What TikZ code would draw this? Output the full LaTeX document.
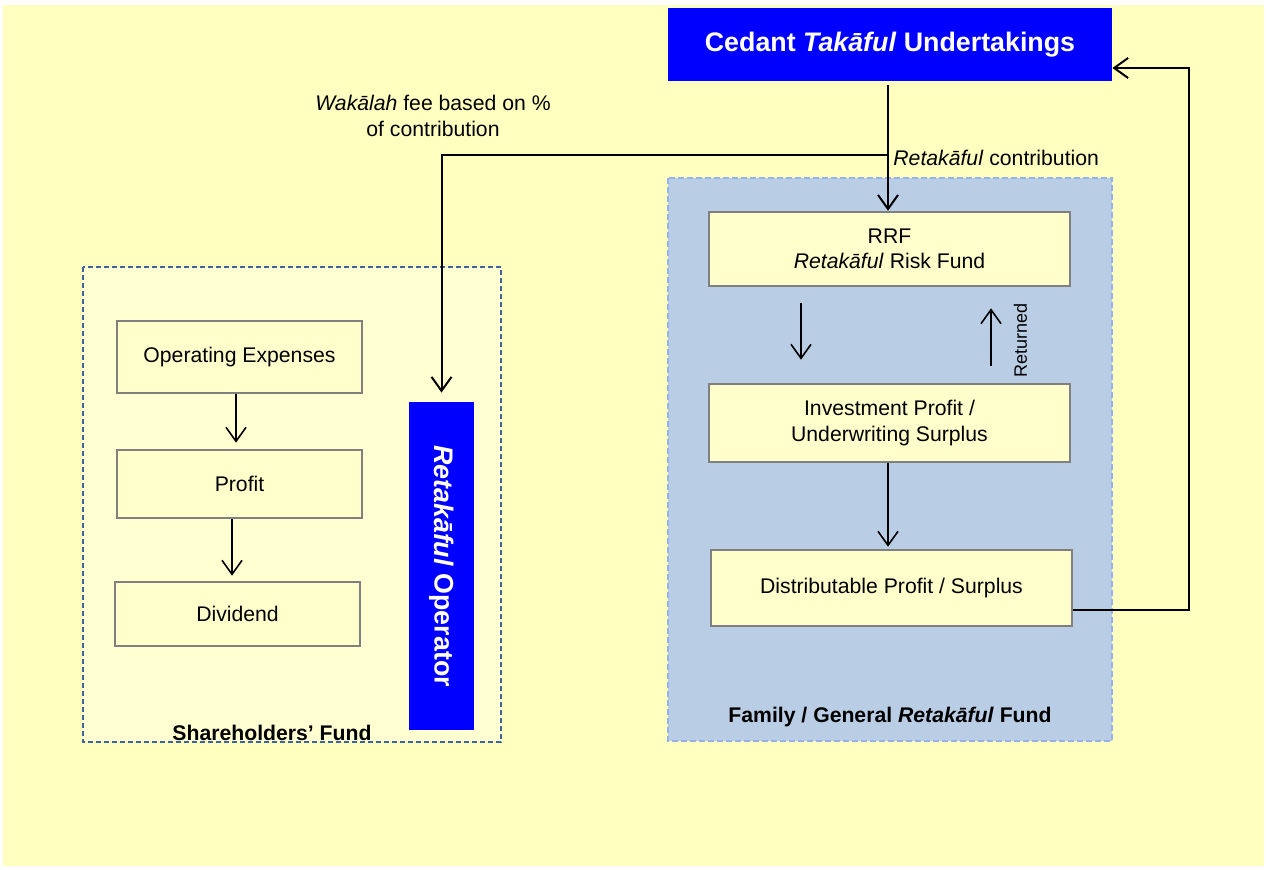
\documentclass[tikz,border=0pt]{standalone}
\usepackage{fontspec}
\setmainfont{Liberation Sans}
\usepackage{tikz}
\usetikzlibrary{arrows.meta}
\definecolor{bgyellow}{RGB}{255,255,192}
\definecolor{shfill}{RGB}{255,255,210}
\definecolor{boxfill}{RGB}{255,255,204}
\definecolor{boxgray}{RGB}{128,128,128}
\definecolor{shdash}{RGB}{62,100,156}
\definecolor{fundblue}{RGB}{185,205,229}
\definecolor{funddash}{RGB}{149,179,232}
\definecolor{opblue}{RGB}{0,0,255}

\begin{document}
\begin{tikzpicture}[x=0.5pt,y=-0.5pt,
  >={Straight Barb[length=7pt,width=10pt]},
  box/.style={draw=boxgray,line width=1.3pt,fill=boxfill,inner sep=0pt,align=center,
    font=\fontsize{10.6}{12.7}\selectfont},
  bluebox/.style={fill=opblue,text=white,inner sep=0pt,
    font=\fontsize{13.4}{16}\selectfont\bfseries},
  conn/.style={->,line width=1pt},
  thin conn/.style={->,line width=0.8pt},
  lbl/.style={inner sep=1pt,align=center,font=\fontsize{10.6}{13}\selectfont}]
  \useasboundingbox (0,0) rectangle (1267,870);
  \fill [bgyellow] (3,5) rectangle (1264,866);

  \filldraw [fill=shfill,draw=shdash,line width=1pt,dash pattern=on 2.5pt off 1.5pt] (83,267) rectangle (501,742);
  \filldraw [fill=fundblue,draw=funddash,line width=1pt,dash pattern=on 3pt off 1.5pt] (668,178) rectangle (1112,741);

  \node [bluebox,minimum width=222pt,minimum height=36.5pt] (cedant) at (890,44.5) {\raisebox{-1.5pt}{Cedant \textit{Takāful} Undertakings}};

  \node [box,minimum width=122.5pt,minimum height=36pt] (opex) at (239.5,357) {Operating Expenses};
  \node [box,minimum width=122.5pt,minimum height=34pt] (profit) at (239.5,484) {Profit};
  \node [box,minimum width=122.5pt,minimum height=32pt] (divid) at (237.5,614) {Dividend};
  \node [bluebox,rotate=-90,minimum width=164pt,minimum height=32.5pt] (oper) at (441.5,566) {\textit{Retakāful} Operator};
  \node [lbl,font=\fontsize{10.6}{13}\selectfont\bfseries] (shfund) at (272,733) {Shareholders’ Fund};

  \node [box,minimum width=180.5pt,minimum height=37pt] (rrf) at (889.5,249) {RRF\\\textit{Retakāful} Risk Fund};
  \node [box,minimum width=180.5pt,minimum height=39pt] (inv) at (889.5,423) {Investment Profit /\\Underwriting Surplus};
  \node [box,minimum width=180.5pt,minimum height=38pt] (dist) at (891.5,588) {Distributable Profit / Surplus};
  \node [lbl,font=\fontsize{10.6}{13}\selectfont\bfseries] (gfund) at (890,717) {Family / General \textit{Retakāful} Fund};

  \node [lbl] (wakalah) at (433,116) {\textit{Wakālah} fee based on \%\\of contribution};
  \node [lbl,anchor=west] (contrib) at (891,158) {\textit{Retakāful} contribution};
  \coordinate (split) at (888,155);

  \draw [conn,shorten <=2pt] (cedant.south -| split) -- (rrf.north -| split);
  \draw [conn,shorten >=4.5pt] (split) -| (oper.west);
  \draw [conn] ([yshift=-11pt]dist.east) -- ++(58pt,0) |- ([yshift=-11.75pt]cedant.east);

  \draw [thin conn,shorten >=3pt] ([xshift=-1.75pt]opex.south) -- ([xshift=-1.75pt]profit.north);
  \draw [thin conn,shorten >=2.5pt] ([xshift=-3.75pt]profit.south) -- ([xshift=-3.75pt]profit.south |- divid.north);
  \draw [thin conn,shorten <=8pt,shorten >=11.5pt] ([xshift=-44.25pt]rrf.south) -- ([xshift=-44.25pt]inv.north);
  \draw [thin conn,shorten <=8.5pt,shorten >=10.5pt] ([xshift=50.75pt]inv.north) -- ([xshift=50.75pt]rrf.south)
    node [pos=0.44,anchor=north,rotate=90,inner sep=0pt,inner ysep=11pt,font=\fontsize{9}{11}\selectfont] {Returned};
  \draw [thin conn,shorten >=1pt] (inv.south -| split) -- (dist.north -| split);
\end{tikzpicture}
\end{document}
